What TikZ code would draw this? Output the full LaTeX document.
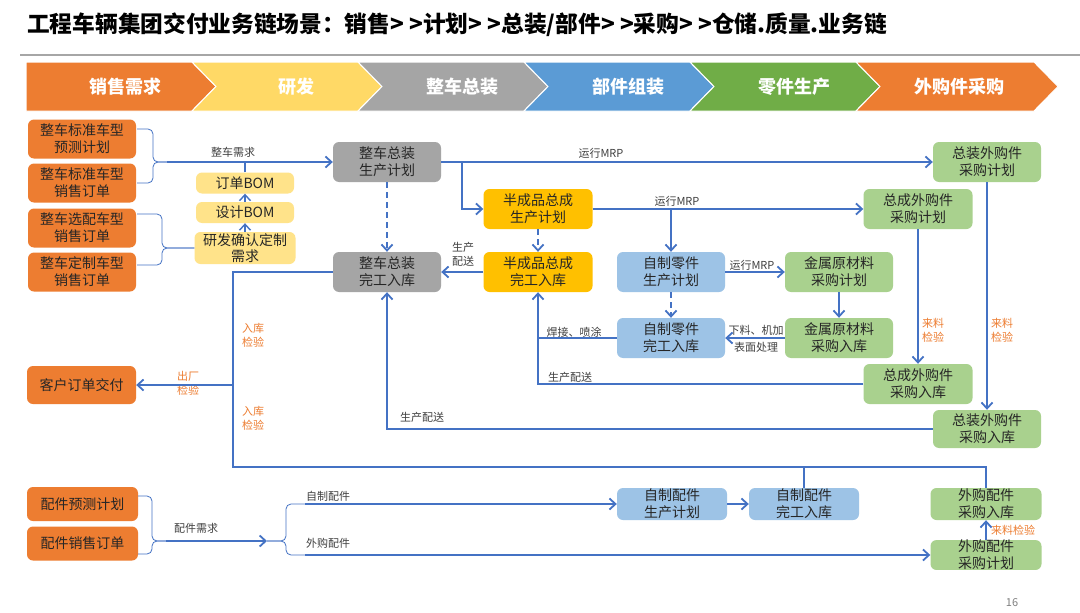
\documentclass[tikz,border=0pt]{standalone}
\usepackage{fontspec}
\setmainfont{Noto Sans CJK SC}
\usetikzlibrary{arrows.meta}

\definecolor{corange}{HTML}{ED7D31}
\definecolor{cyellow}{HTML}{FFD966}
\definecolor{cgray}{HTML}{A5A5A5}
\definecolor{cblue}{HTML}{5B9BD5}
\definecolor{cgreen}{HTML}{70AD47}
\definecolor{rdfill}{HTML}{FFE38A}
\definecolor{semifill}{HTML}{FFC000}
\definecolor{partfill}{HTML}{9DC3E6}
\definecolor{buyfill}{HTML}{A9D18E}
\definecolor{cline}{HTML}{4472C4}
\definecolor{txtcol}{HTML}{262626}
\definecolor{lblcol}{HTML}{404040}

\tikzset{
  box/.style={rounded corners=6pt, minimum width=108pt, minimum height=40pt,
    inner sep=0pt, align=center, text=txtcol, font=\fontsize{14}{17}\selectfont},
  salebox/.style={box, fill=corange},
  rdbox/.style={box, fill=rdfill, minimum width=98pt, minimum height=21pt},
  asmbox/.style={box, fill=cgray},
  semibox/.style={box, fill=semifill},
  partbox/.style={box, fill=partfill},
  buybox/.style={box, fill=buyfill},
  flow/.style={draw=cline, line width=1.8pt, -{Straight Barb[length=6pt,width=11pt]}},
  link/.style={draw=cline, line width=1.8pt},
  brace/.style={draw=cline, line width=0.8pt, rounded corners=5pt},
  lbl/.style={inner sep=0pt, align=center, text=lblcol, font=\fontsize{11}{14}\selectfont},
  chk/.style={lbl, text=corange},
  chevtext/.style={text=white, font=\fontsize{18}{21}\selectfont\bfseries}
}

\begin{document}
\begin{tikzpicture}[x=1pt, y=-1pt]
  \useasboundingbox (0,0) rectangle (1080,613);
  \fill[white] (0,0) rectangle (1080,613);

  % Title
  \node[anchor=west, inner sep=0pt, font=\fontsize{22.7}{26}\selectfont\bfseries] (title) at (27,25)
    {工程车辆集团交付业务链场景：销售> >计划> >总装/部件> >采购> >仓储.质量.业务链};
  \draw[gray!70, line width=1.2pt] (20,55) -- (1080,55);

  % Stage banner
  \foreach \l/\r/\n/\col/\cx/\txt in {26/192/0/corange/125/销售需求, 192/358/24/cyellow/296/研发,
      358/524/24/cgray/462/整车总装, 524/690/24/cblue/628/部件组装,
      690/856/24/cgreen/794/零件生产, 856/1034/24/corange/959/外购件采购}{
    \fill[\col, draw=white, line width=1pt] (\l,62) -- (\r,62) -- ({\r+24},86.5) -- (\r,111)
      -- (\l,111) -- ({\l+\n},86.5) -- cycle;
    \node[chevtext] (stage\l) at (\cx,86.5) {\txt};
  }

  % Nodes with manual coordinates
  \node[salebox, minimum height=39pt] (std1) at (82,139) {整车标准车型\\预测计划};
  \node[salebox, minimum height=39pt] (std2) at (82,183) {整车标准车型\\销售订单};
  \node[salebox, minimum height=39pt] (opt) at (82,228) {整车选配车型\\销售订单};
  \node[salebox, minimum height=39pt] (cust) at (82,272) {整车定制车型\\销售订单};
  \node[salebox, minimum height=38pt, minimum width=109pt] (deliver) at (81.5,385) {客户订单交付};
  \node[salebox, minimum height=34pt, minimum width=111pt] (spfc) at (82.5,504) {配件预测计划};
  \node[salebox, minimum height=34pt, minimum width=111pt] (spso) at (82.5,543.5) {配件销售订单};

  \node[rdbox] (bom1) at (245,183) {订单BOM};
  \node[rdbox] (bom2) at (245,212.5) {设计BOM};
  \node[rdbox, minimum width=101pt, minimum height=32pt, font=\fontsize{14}{16}\selectfont] (rd) at (245,248) {研发确认定制\\需求};

  \node[asmbox] (asmplan) at (387,162) {整车总装\\生产计划};
  \node[asmbox] (asmdone) at (387,272) {整车总装\\完工入库};
  \node[semibox, minimum width=109pt] (semiplan) at (538,209) {半成品总成\\生产计划};
  \node[semibox, minimum width=109pt] (semidone) at (538,272) {半成品总成\\完工入库};
  \node[partbox] (partplan) at (671,272) {自制零件\\生产计划};
  \node[partbox] (partdone) at (671,338) {自制零件\\完工入库};
  \node[partbox, minimum width=110pt, minimum height=32pt] (spplan) at (672,504) {自制配件\\生产计划};
  \node[partbox, minimum width=110pt, minimum height=32pt] (spdone) at (804,504) {自制配件\\完工入库};

  \node[buybox] (asmbuyplan) at (987,162) {总装外购件\\采购计划};
  \node[buybox, minimum width=109pt] (subbuyplan) at (918,209) {总成外购件\\采购计划};
  \node[buybox] (metalplan) at (839,272) {金属原材料\\采购计划};
  \node[buybox] (metalin) at (839,338) {金属原材料\\采购入库};
  \node[buybox, minimum width=109pt] (subbuyin) at (918,384) {总成外购件\\采购入库};
  \node[buybox, minimum height=38pt] (asmbuyin) at (987,429) {总装外购件\\采购入库};
  \node[buybox, minimum width=111pt, minimum height=32pt] (opin) at (986,504) {外购配件\\采购入库};
  \node[buybox, minimum width=111pt, minimum height=29pt] (opplan) at (986,555) {外购配件\\采购计划};

  % Junctions
  \coordinate (b1top) at (137,129);
  \coordinate (b1bot) at (137,183);
  \coordinate (b1tip) at (167,162);
  \coordinate (b2top) at (137,214);
  \coordinate (b2bot) at (137,265);
  \coordinate (b3top) at (138,496);
  \coordinate (b3bot) at (138,554);
  \coordinate (b3tip) at (166,541);
  \coordinate (b4tip) at (267,541);
  \coordinate (b4top) at (305,504);
  \coordinate (b4bot) at (305,555);
  \coordinate (j1) at (462,162);
  \coordinate (j2) at (671,209);
  \coordinate (l1) at (233,272);
  \coordinate (l2) at (233,467);

  % Labels
  \node[lbl] (need) at (233,152) {整车需求};
  \node[lbl] (mrp1) at (601,153) {运行MRP};
  \node[lbl] (mrp2) at (677,201) {运行MRP};
  \node[lbl] (mrp3) at (752,265) {运行MRP};
  \node[lbl] (feed) at (463,254) {生产\\配送};
  \node[lbl] (cut) at (756,330) {下料、机加};
  \node[lbl] (surf) at (756,347) {表面处理};
  \node[lbl] (weld) at (574,332) {焊接、喷涂};
  \node[lbl] (dist1) at (570,377) {生产配送};
  \node[lbl] (dist2) at (422,417) {生产配送};
  \node[chk] (chk1) at (933,330) {来料\\检验};
  \node[chk] (chk2) at (1002,330) {来料\\检验};
  \node[chk] (chk3) at (1013,530) {来料检验};
  \node[chk] (in1) at (253,335) {入库\\检验};
  \node[chk] (in2) at (253,418) {入库\\检验};
  \node[chk] (out) at (188,383.5) {出厂\\检验};
  \node[lbl] (spneed) at (196,528) {配件需求};
  \node[lbl] (self) at (328,496) {自制配件};
  \node[lbl] (buy) at (328,543) {外购配件};
  \node[lbl, text=gray] (page) at (1012,603) {16};

  % Edges
  \draw[brace] (b1top) -- ++(16,0) |- (b1tip);
  \draw[brace] (b1bot) -- ++(16,0) |- (b1tip);
  \draw[flow] (b1tip) -- (asmplan.west);
  \draw[link, line width=1.4pt] (bom1.north) -- (bom1.north |- b1tip);
  \draw[flow, line width=1.4pt] (bom2.north) -- (bom1.south);
  \draw[flow, line width=1.4pt] (rd.north) -- (bom2.south);
  \draw[brace] (b2top) -- ++(25,0) |- (rd.west);
  \draw[brace] (b2bot) -- ++(25,0) |- (rd.west);

  \draw[flow] (asmplan.east) -- (asmbuyplan.west);
  \draw[flow] (j1) |- (semiplan.west);
  \draw[flow] (semiplan.east) -- (subbuyplan.west);
  \draw[flow] (j2) -- (partplan.north);
  \draw[flow, dash pattern=on 6pt off 4pt] (asmplan.south) -- (asmdone.north);
  \draw[flow, dash pattern=on 6pt off 4pt] (semiplan.south) -- (semidone.north);
  \draw[flow, dash pattern=on 6pt off 4pt] (partplan.south) -- (partdone.north);
  \draw[flow] (semidone.west) -- (asmdone.east);
  \draw[flow] (partplan.east) -- (metalplan.west);
  \draw[flow] (metalplan.south) -- (metalin.north);
  \draw[flow] (metalin.west) -- (partdone.east);
  \draw[link] (partdone.west) -- (semidone.south |- partdone.west);
  \draw[flow] (subbuyin.west) -| (semidone.south);
  \draw[flow] (subbuyplan.south) -- (subbuyin.north);
  \draw[flow] (asmbuyplan.south) -- (asmbuyin.north);
  \draw[flow] (asmbuyin.west) -| (asmdone.south);

  \draw[link] (asmdone.west) -- (l1) -- (l2) -| (opin.north);
  \draw[link] (spdone.north) -- (spdone.north |- l2);
  \draw[flow] (l1 |- deliver.east) -- (deliver.east);

  \draw[brace] (b3top) -- ++(14,0) |- (b3tip);
  \draw[brace] (b3bot) -- ++(14,0) |- (b3tip);
  \draw[flow] (b3tip) -- (b4tip);
  \draw[brace] (b4tip) -- ++(19,0) |- (b4top);
  \draw[brace] (b4tip) -- ++(19,0) |- (b4bot);
  \draw[flow] (b4top) -- (spplan.west);
  \draw[flow] (b4bot) -- (opplan.west);
  \draw[flow] (spplan.east) -- (spdone.west);
  \draw[flow] (opplan.north) -- (opin.south);
\end{tikzpicture}
\end{document}
